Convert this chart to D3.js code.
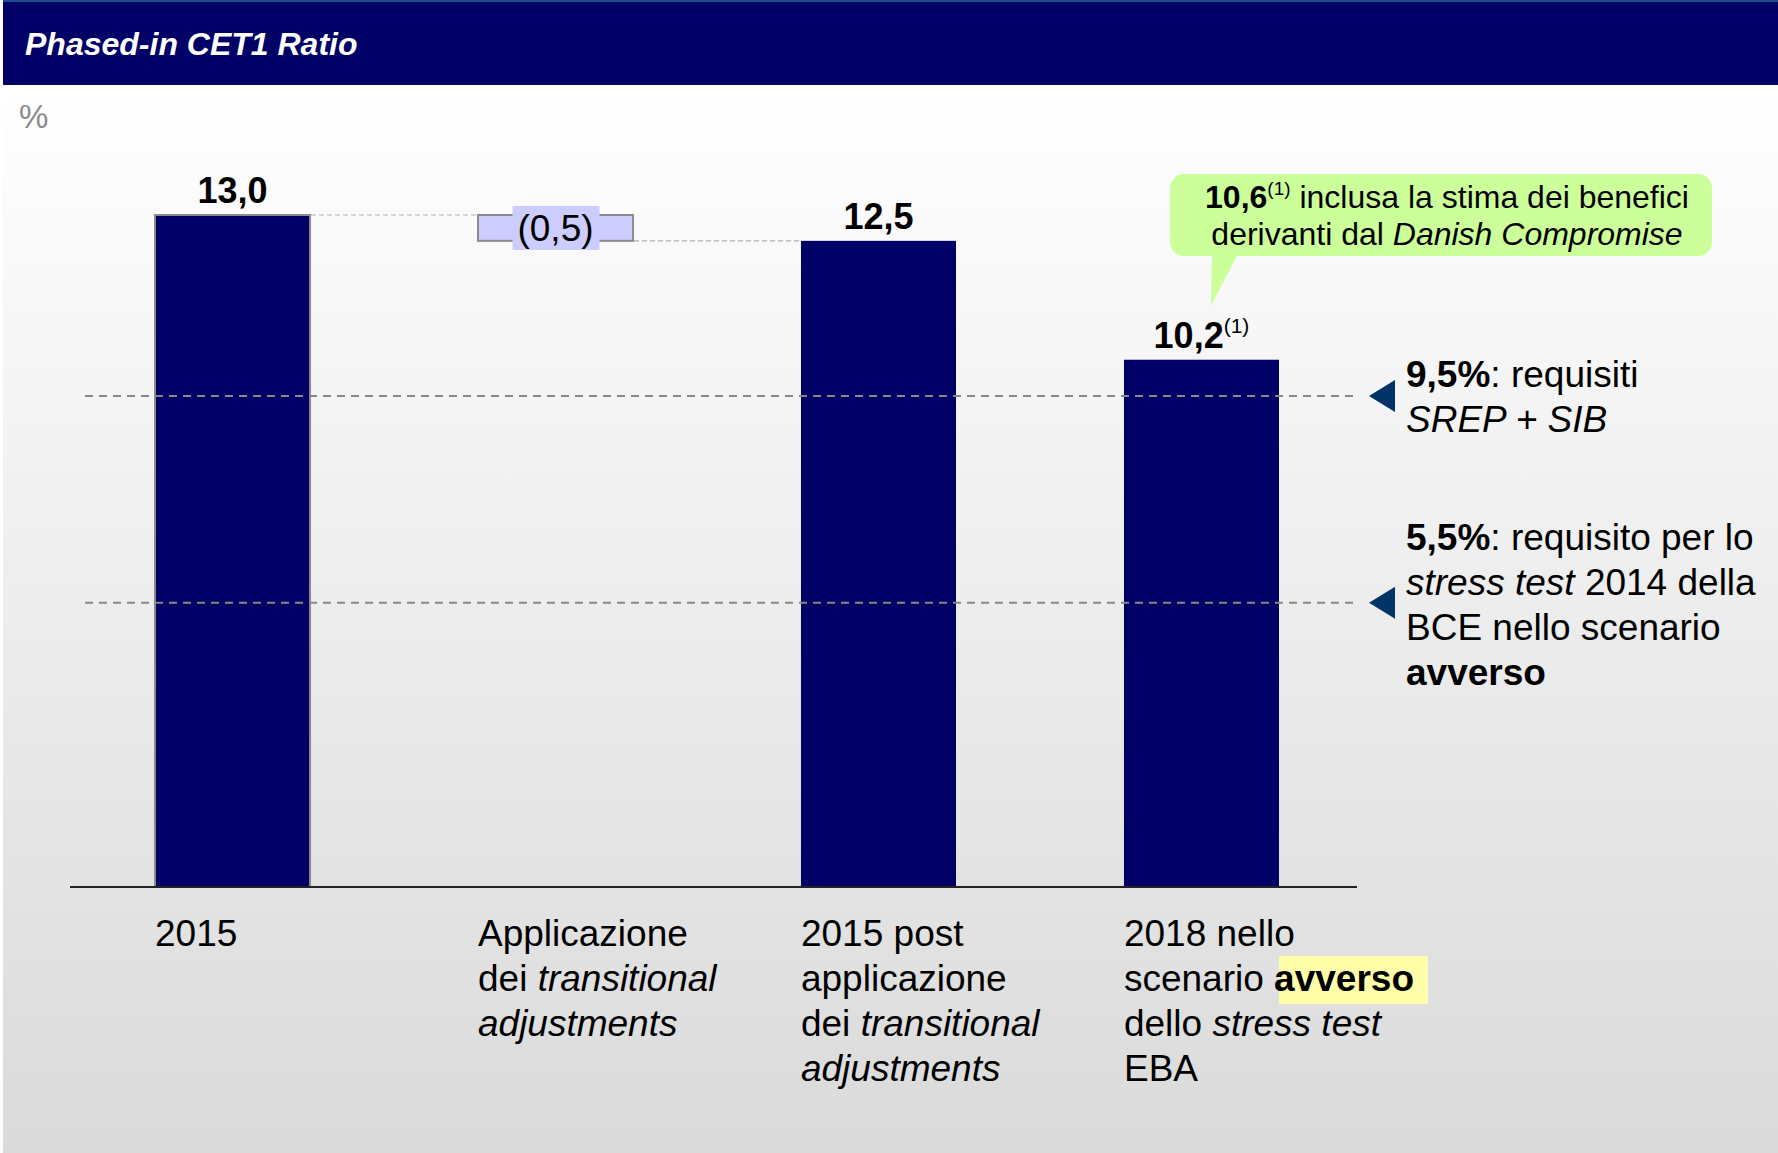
<!DOCTYPE html>
<html>
<head>
<meta charset="utf-8">
<script src="https://cdn.jsdelivr.net/npm/d3@7"></script>
<style>
  body { margin: 0; background: #fff; }
  text { font-family: 'Liberation Sans', Arial, sans-serif; }
</style>
</head>
<body>
<div id="chart"></div>
<script>
let width = 1778
let height = 1153

// data
let categories = ['2015', 'Applicazione', '2015 post', '2018']
let baseValues = [0, 12.5, 0, 0]
let topValues = [13.0, 13.0, 12.5, 10.2]
let valueLabels = ['13,0', '(0,5)', '12,5', '10,2']
let thresholds = [9.5, 5.5]

// category labels, one array of [text, style] segments per line
let categoryLines = [
  [[['2015', 'n']]],
  [
    [['Applicazione', 'n']],
    [['dei ', 'n'], ['transitional', 'i']],
    [['adjustments', 'i']]
  ],
  [
    [['2015 post', 'n']],
    [['applicazione', 'n']],
    [['dei ', 'n'], ['transitional', 'i']],
    [['adjustments', 'i']]
  ],
  [
    [['2018 nello', 'n']],
    [['scenario ', 'n'], ['avverso', 'b']],
    [['dello ', 'n'], ['stress test', 'i']],
    [['EBA', 'n']]
  ]
]

let thresholdLines = [
  [
    [['9,5%', 'b'], [': requisiti', 'n']],
    [['SREP + SIB', 'i']]
  ],
  [
    [['5,5%', 'b'], [': requisito per lo', 'n']],
    [['stress test', 'i'], [' 2014 della', 'n']],
    [['BCE nello scenario', 'n']],
    [['avverso', 'b']]
  ]
]

let svg = d3
  .select('#chart')
  .append('svg')
  .attr('width', width)
  .attr('height', height)

let defs = svg.append('defs')
let grad = defs
  .append('linearGradient')
  .attr('id', 'bg')
  .attr('x1', 0)
  .attr('y1', 0)
  .attr('x2', 0)
  .attr('y2', 1)
grad.append('stop').attr('offset', '0%').attr('stop-color', '#ffffff')
grad.append('stop').attr('offset', '100%').attr('stop-color', '#dadada')

svg
  .append('rect')
  .attr('x', 3)
  .attr('y', 85)
  .attr('width', width - 3)
  .attr('height', height - 85)
  .attr('fill', 'url(#bg)')

// header
svg
  .append('rect')
  .attr('x', 3)
  .attr('y', 0)
  .attr('width', width - 3)
  .attr('height', 85)
  .attr('fill', '#000066')
svg
  .append('rect')
  .attr('x', 3)
  .attr('y', 0)
  .attr('width', width - 3)
  .attr('height', 2)
  .attr('fill', '#1f4e8c')

svg
  .append('text')
  .attr('x', 25)
  .attr('y', 55)
  .attr('fill', '#fff')
  .attr('font-size', 32)
  .attr('font-weight', 'bold')
  .attr('font-style', 'italic')
  .text('Phased-in CET1 Ratio')

svg
  .append('text')
  .attr('x', 19)
  .attr('y', 128)
  .attr('fill', '#8c8c8c')
  .attr('font-size', 33)
  .text('%')

let xPositionScale = d3
  .scaleBand()
  .domain(categories)
  .range([155, 1279])
  .paddingInner(0.52)
  .paddingOuter(0)

let yPositionScale = d3.scaleLinear().domain([0, 13]).range([887, 215])

function addRich(sel, segments) {
  segments.forEach(s => {
    let t = sel.append('tspan').text(s[0])
    if (s[1] === 'b') t.attr('font-weight', 'bold')
    if (s[1] === 'i') t.attr('font-style', 'italic')
  })
}

// bars
let data = categories.map((c, i) => ({
  key: c,
  base: baseValues[i],
  top: topValues[i],
  label: valueLabels[i]
}))

svg
  .selectAll('.bar')
  .data(data)
  .enter()
  .append('rect')
  .attr('class', 'bar')
  .attr('x', d => xPositionScale(d.key))
  .attr('y', d => yPositionScale(d.top))
  .attr('width', xPositionScale.bandwidth())
  .attr('height', d => yPositionScale(d.base) - yPositionScale(d.top))
  .attr('fill', (d, i) => (i === 1 ? '#ccccff' : '#000066'))
  .attr('stroke', (d, i) => (i < 2 ? '#8c8c8c' : 'none'))
  .attr('stroke-width', 2)

// connector lines
for (let i = 0; i < 2; i++) {
  let y = yPositionScale(i === 0 ? topValues[0] : baseValues[1])
  svg
    .append('line')
    .attr('x1', xPositionScale(categories[i]) + xPositionScale.bandwidth() + 1)
    .attr('x2', xPositionScale(categories[i + 1]) - 1)
    .attr('y1', y)
    .attr('y2', y)
    .attr('stroke', '#b0b0b0')
    .attr('stroke-width', 1.2)
    .attr('stroke-dasharray', '5,3')
}

// threshold dashed lines
svg
  .selectAll('.threshold')
  .data(thresholds)
  .enter()
  .append('line')
  .attr('class', 'threshold')
  .attr('x1', 85)
  .attr('x2', 1357)
  .attr('y1', d => yPositionScale(d))
  .attr('y2', d => yPositionScale(d))
  .attr('stroke', '#888')
  .attr('stroke-width', 2)
  .attr('stroke-dasharray', '8,6')

// arrows
svg
  .selectAll('.arrow')
  .data(thresholds)
  .enter()
  .append('path')
  .attr('class', 'arrow')
  .attr('d', d => {
    let y = yPositionScale(d)
    return 'M1369,' + y + 'L1395,' + (y - 16) + 'L1395,' + (y + 16) + 'Z'
  })
  .attr('fill', '#003366')

// axis baseline
svg
  .append('line')
  .attr('x1', 70)
  .attr('x2', 1357)
  .attr('y1', yPositionScale(0))
  .attr('y2', yPositionScale(0))
  .attr('stroke', '#222')
  .attr('stroke-width', 2)

// value labels
data.forEach((d, i) => {
  let cx = xPositionScale(d.key) + xPositionScale.bandwidth() / 2
  if (i === 1) {
    let yMid = (yPositionScale(d.top) + yPositionScale(d.base)) / 2
    svg
      .append('rect')
      .attr('x', cx - 43)
      .attr('y', yMid - 22)
      .attr('width', 87)
      .attr('height', 44)
      .attr('fill', '#ccccff')
    svg
      .append('text')
      .attr('x', cx)
      .attr('y', yMid + 13)
      .attr('text-anchor', 'middle')
      .attr('font-size', 37)
      .text(d.label)
    return
  }
  let t = svg
    .append('text')
    .attr('x', cx)
    .attr('y', yPositionScale(d.top) - 12)
    .attr('text-anchor', 'middle')
    .attr('font-size', 36)
    .attr('font-weight', 'bold')
    .text(d.label)
  if (i === 3) {
    t.append('tspan')
      .attr('font-weight', 'normal')
      .attr('font-size', 21)
      .attr('dy', -15)
      .text('(1)')
  }
})

// category labels
categoryLines.forEach((lines, i) => {
  let x = xPositionScale(categories[i])
  lines.forEach((segs, j) => {
    let t = svg
      .append('text')
      .attr('x', x)
      .attr('y', 946 + j * 45)
      .attr('font-size', 37)
    addRich(t, segs)
  })
})

// yellow highlight behind "avverso"
let lastX = xPositionScale(categories[3])
let hl = svg
  .insert('rect', 'text')
  .attr('x', 1279)
  .attr('y', 956)
  .attr('width', 149)
  .attr('height', 48)
  .attr('fill', '#ffffaa')

// threshold annotations
let thresholdBaselines = [387, 550]
thresholdLines.forEach((lines, i) => {
  lines.forEach((segs, j) => {
    let t = svg
      .append('text')
      .attr('x', 1406)
      .attr('y', thresholdBaselines[i] + j * 45)
      .attr('font-size', 37)
    addRich(t, segs)
  })
})

// callout bubble
let bubble = svg.append('g')
bubble
  .append('rect')
  .attr('x', 1170)
  .attr('y', 174)
  .attr('width', 542)
  .attr('height', 82)
  .attr('rx', 14)
  .attr('fill', '#ccff99')
bubble
  .append('path')
  .attr('d', 'M1212,250L1211,306L1240,250Z')
  .attr('fill', '#ccff99')

let b1 = bubble
  .append('text')
  .attr('x', 1447)
  .attr('y', 208)
  .attr('text-anchor', 'middle')
  .attr('font-size', 32)
b1.append('tspan').attr('font-weight', 'bold').text('10,6')
b1.append('tspan').attr('font-size', 19).attr('dy', -13).text('(1)')
b1.append('tspan').attr('dy', 13).text(' inclusa la stima dei benefici')

let b2 = bubble
  .append('text')
  .attr('x', 1447)
  .attr('y', 245)
  .attr('text-anchor', 'middle')
  .attr('font-size', 32)
addRich(b2, [['derivanti dal ', 'n'], ['Danish Compromise', 'i']])
</script>
</body>
</html>
